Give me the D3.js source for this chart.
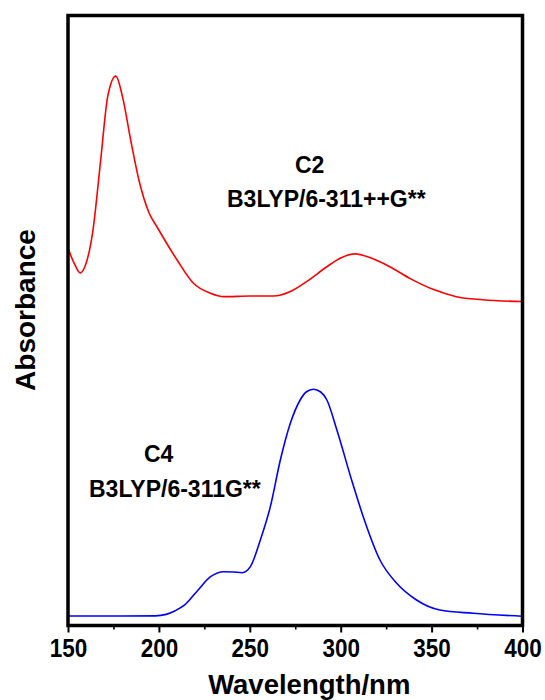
<!DOCTYPE html>
<html>
<head>
<meta charset="utf-8">
<script src="https://cdn.jsdelivr.net/npm/d3@7/dist/d3.min.js"></script>
<style>
html,body{margin:0;padding:0;background:#fff;}
svg{display:block;font-family:"Liberation Sans",Arial,sans-serif;}
</style>
</head>
<body>
<svg id="chart" width="545" height="700"></svg>
<script>
// Wavelength (nm) and relative absorbance
const c2Wavelength = [150,153.5,156.7,160,163.5,168,171.8,176.3,180,184.5,189,194.6,199,210,219,228,236,250,263,272,281.4,292.4,299.7,307.9,316,327,338,350.8,363.6,378,400];
const c2Absorbance = [61.8,59.3,57.8,59.4,64.3,76.3,86.6,90.0,86.6,79.5,73.0,67.6,65.3,59.9,56.1,54.5,53.9,54.0,54.0,54.7,56.4,58.8,60.2,60.9,60.3,58.8,56.9,55.1,53.9,53.4,53.1];

const c4Wavelength = [150,180,198,204,209,214,221,228.4,235.7,241,245.8,250.3,255.8,261.3,266.8,272.3,277.7,281,285,289,292.4,297.9,306,312.4,321.6,330.8,341.7,354.5,372.8,400];
const c4Absorbance = [1.64,1.64,1.66,1.9,2.5,3.4,5.7,8.07,8.89,8.84,8.72,9.71,14.08,19.53,27.17,33.18,36.99,38.3,38.74,38.3,36.99,32.08,23.90,17.89,10.80,6.99,4.26,2.62,2.08,1.59];

const xTicks = [150,200,250,300,350,400];
const xMinorTicks = [175,225,275,325,375];

const svg = d3.select("#chart");
const L = 68, R = 522.5, T = 15.5, B = 625.5;

const x = d3.scaleLinear().domain([150,400]).range([L,R]);
const y = d3.scaleLinear().domain([0,100]).range([626,15]);

const line = d3.line().x(d=>x(d[0])).y(d=>y(d[1])).curve(d3.curveMonotoneX);

svg.append("clipPath").attr("id","clip").append("rect")
  .attr("x",L).attr("y",T).attr("width",R-L).attr("height",B-T);

const g = svg.append("g").attr("clip-path","url(#clip)");
g.append("path").datum(d3.zip(c2Wavelength,c2Absorbance))
  .attr("d",line).attr("fill","none").attr("stroke","#ff0000").attr("stroke-width",1.6);
g.append("path").datum(d3.zip(c4Wavelength,c4Absorbance))
  .attr("d",line).attr("fill","none").attr("stroke","#0000ff").attr("stroke-width",1.6);

// minor ticks
const minorAxis = d3.axisBottom(x).tickValues(xMinorTicks).tickSize(4).tickFormat("");
const ma = svg.append("g").attr("transform",`translate(0,${B})`).call(minorAxis);
ma.select(".domain").remove();
ma.selectAll("line").attr("stroke","#000").attr("stroke-width",1.6);

// major ticks
const axis = d3.axisBottom(x).tickValues(xTicks).tickSize(7).tickFormat(d3.format("d"));
const ax = svg.append("g").attr("transform",`translate(0,${B})`).call(axis);
ax.select(".domain").remove();
ax.selectAll("line").attr("stroke","#000").attr("stroke-width",2);
ax.selectAll("text")
  .attr("y",0).attr("dy",0)
  .attr("transform","translate(0,31) scale(1,1.12)")
  .attr("font-size",22.5).attr("font-weight","bold")
  .attr("font-family","'Liberation Sans',Arial,sans-serif")
  .attr("fill","#000");

// frame
svg.append("rect").attr("x",L).attr("y",T).attr("width",R-L).attr("height",B-T)
  .attr("fill","none").attr("stroke","#000").attr("stroke-width",3.5);

// axis titles
svg.append("text").attr("x",(L+R)/2+14).attr("y",694)
  .attr("text-anchor","middle").attr("font-size",27.5).attr("font-weight","bold")
  .text("Wavelength/nm");
svg.append("text").attr("transform","translate(35,310) rotate(-90)")
  .attr("text-anchor","middle").attr("font-size",28).attr("font-weight","bold")
  .text("Absorbance");

// annotations
const ann = [
  {t:"C2", x:295, y:173},
  {t:"B3LYP/6-311++G**", x:227, y:206.5},
  {t:"C4", x:144, y:461.5},
  {t:"B3LYP/6-311G**", x:89, y:496.5}
];
svg.selectAll("text.ann").data(ann).enter().append("text").attr("class","ann")
  .attr("x",d=>d.x).attr("y",d=>d.y).attr("font-size",23).attr("font-weight","bold")
  .text(d=>d.t);
</script>
</body>
</html>
